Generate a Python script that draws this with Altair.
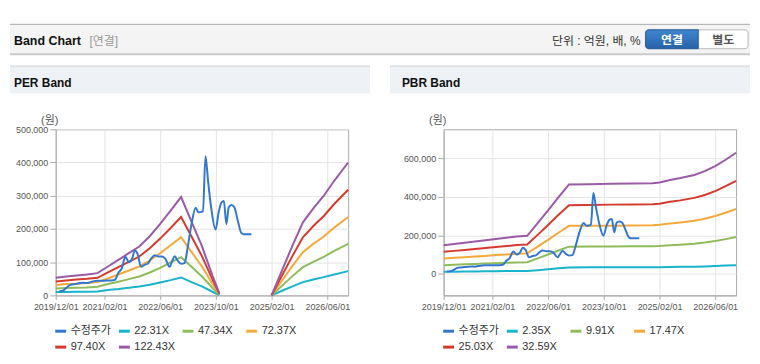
import altair as alt
import pandas as pd

FONT = "Liberation Sans, Noto Sans CJK KR"

# ---------------- data ----------------
tick_dates = ["2019/12/01", "2021/02/01", "2022/06/01", "2023/10/01", "2025/02/01", "2026/06/01"]

stock_name = "수정주가"
stock_dates = [
    "2020/01/01", "2020/02/01", "2020/03/01", "2020/04/01", "2020/05/01", "2020/06/01",
    "2020/07/01", "2020/08/01", "2020/09/01", "2020/10/01", "2020/11/01", "2020/12/01",
    "2021/01/01", "2021/02/01", "2021/03/01", "2021/04/01", "2021/05/01", "2021/06/01",
    "2021/07/01", "2021/08/01", "2021/09/01", "2021/10/01", "2021/10/22", "2021/11/16",
    "2021/12/16", "2022/01/16", "2022/02/16", "2022/03/16", "2022/04/13", "2022/05/16",
    "2022/06/16", "2022/07/16", "2022/08/22", "2022/09/16", "2022/10/07", "2022/11/01",
    "2022/12/01", "2023/01/01", "2023/01/25", "2023/03/01", "2023/04/07", "2023/05/01",
    "2023/06/10", "2023/07/01", "2023/07/25", "2023/08/22", "2023/09/28", "2023/10/25",
    "2023/11/19", "2023/12/10", "2024/01/01", "2024/01/22", "2024/02/16", "2024/03/10",
    "2024/04/10", "2024/05/10", "2024/06/01", "2024/08/07",
]
stock_values = [
    12000, 14000, 22000, 31000, 33000, 35000,
    37000, 38000, 37000, 40000, 43000, 44000,
    44000, 44000, 45000, 45000, 47000, 68000,
    82000, 116000, 100000, 112000, 135000, 125000,
    86000, 92000, 96000, 112000, 121000, 117000,
    117000, 110000, 86000, 105000, 118000, 105000,
    95000, 97000, 138000, 215000, 264000, 250000,
    253000, 419000, 340000, 260000, 198000, 250000,
    280000, 284000, 215000, 265000, 272000, 265000,
    225000, 188000, 184000, 184000,
]

# PER band (break between 2023/11 and 2025/02)
per_dates = [
    "2019/12/01", "2020/03/01", "2020/06/01", "2020/09/01", "2020/12/01", "2021/03/01",
    "2021/06/01", "2021/09/01", "2021/12/01", "2022/03/01", "2022/06/01", "2022/09/01",
    "2022/12/01", "2023/03/01", "2023/06/01", "2023/09/01", "2023/11/01",
    "2025/02/01", "2025/05/01", "2025/08/01", "2025/11/01", "2026/02/01", "2026/05/01",
    "2026/08/01", "2026/12/01",
]
per_gap_after = "2023/11/01"
per_names = ["22.31X", "47.34X", "72.37X", "97.40X", "122.43X"]
per_22 = [10000, 10000, 11000, 11000, 12000, 16000, 19000, 23000, 27000, 32000, 39000, 46000,
          54000, 40000, 27000, 11000, 1000,
          0, 14000, 27000, 40000, 48000, 55000, 63000, 73000]
per_47 = [21000, 22000, 23000, 24000, 26000, 34000, 41000, 49000, 57000, 69000, 83000, 99000,
          115000, 86000, 57000, 23000, 2000,
          0, 29000, 58000, 85000, 101000, 116000, 134000, 155000]
per_72 = [31000, 34000, 35000, 37000, 40000, 51000, 63000, 75000, 87000, 105000, 127000, 151000,
          175000, 131000, 87000, 35000, 4000,
          0, 44000, 89000, 130000, 155000, 177000, 204000, 236000]
per_97 = [42000, 45000, 48000, 50000, 53000, 69000, 85000, 101000, 117000, 142000, 171000, 203000,
          236000, 177000, 118000, 48000, 5000,
          0, 60000, 119000, 175000, 209000, 239000, 275000, 318000]
per_122 = [53000, 57000, 60000, 63000, 67000, 87000, 107000, 127000, 147000, 178000, 215000, 255000,
           296000, 222000, 148000, 60000, 6000,
           0, 75000, 150000, 220000, 262000, 300000, 345000, 400000]

# PBR band
pbr_dates = [
    "2019/12/01", "2020/03/01", "2020/06/01", "2020/09/01", "2020/12/01", "2021/03/01",
    "2021/06/01", "2021/09/01", "2021/12/01", "2022/03/01", "2022/06/01", "2022/09/01",
    "2022/12/01", "2023/06/01", "2023/12/01", "2024/06/01", "2024/12/01", "2025/02/01",
    "2025/05/01", "2025/08/01", "2025/12/01", "2026/03/01", "2026/06/01", "2026/09/01",
    "2026/12/01",
]
pbr_names = ["2.35X", "9.91X", "17.47X", "25.03X", "32.59X"]
pbr_2 = [11000, 11000, 12000, 12000, 13000, 13000, 14000, 14000, 14000, 19000, 24000, 29000,
         33000, 34000, 34000, 34000, 34000, 34000, 35000, 36000, 37000, 38000, 40000, 43000, 45000]
pbr_9 = [45000, 47000, 49000, 51000, 53000, 55000, 57000, 59000, 60000, 80000, 100000, 121000,
         141000, 142000, 142000, 143000, 143000, 144000, 148000, 151000, 156000, 162000, 170000,
         180000, 191000]
pbr_17 = [79000, 83000, 86000, 90000, 93000, 97000, 100000, 104000, 106000, 141000, 176000, 213000,
          249000, 249000, 250000, 251000, 252000, 254000, 261000, 266000, 275000, 286000, 300000,
          317000, 337000]
pbr_25 = [114000, 119000, 124000, 129000, 134000, 139000, 144000, 149000, 152000, 202000, 253000,
          306000, 356000, 357000, 359000, 360000, 361000, 364000, 374000, 381000, 394000, 409000,
          429000, 455000, 482000]
pbr_32 = [148000, 155000, 161000, 168000, 174000, 181000, 187000, 194000, 197000, 263000, 329000,
          398000, 464000, 465000, 467000, 469000, 470000, 474000, 487000, 497000, 513000, 533000,
          559000, 592000, 628000]

stock_color = "#3377d0"
band_colors = ["#19b3cb", "#8fbc5a", "#f5a93a", "#d53a2e", "#9a5aa6"]

per_y_ticks = [0, 100000, 200000, 300000, 400000, 500000]
per_y_domain = [0, 500000]
pbr_y_ticks = [0, 200000, 400000, 600000]
pbr_y_domain = [-112000, 750000]


# ---------------- helpers ----------------
def idx(s):
    y, m, d = (int(p) for p in s.split("/"))
    return (y - 2019) * 12 + (m - 12) + (d - 1) / 30.0


def band_frame(dates, names, series, gap_after=None):
    g = idx(gap_after) if gap_after else None
    rows = []
    for name, vals in zip(names, series):
        for dt, v in zip(dates, vals):
            i = idx(dt)
            rows.append({"m": i, "v": v, "s": name, "seg": 1 if (g is not None and i > g) else 0})
    return pd.DataFrame(rows)


stock_df = pd.DataFrame({"m": [idx(d) for d in stock_dates], "v": stock_values, "s": stock_name})
per_df = band_frame(per_dates, per_names, [per_22, per_47, per_72, per_97, per_122], per_gap_after)
pbr_df = band_frame(pbr_dates, pbr_names, [pbr_2, pbr_9, pbr_17, pbr_25, pbr_32])

tick_idx = [int(round(idx(d))) for d in tick_dates]
label_expr = "[" + ",".join("'%s'" % d for d in tick_dates) + "][indexof([" + ",".join(
    str(t) for t in tick_idx) + "], datum.value)]"

one = pd.DataFrame({"k": [0]})

W, H = 294, 167


def rect(o, x1, y1, x2, y2, **kw):
    return alt.Chart(one).mark_rect(**kw).encode(
        x=alt.value(x1 - o[0]), x2=alt.value(x2 - o[0]),
        y=alt.value(y1 - o[1]), y2=alt.value(y2 - o[1]))


def hline(o, x1, x2, y, color, w=1):
    return alt.Chart(one).mark_rule(color=color, strokeWidth=w).encode(
        x=alt.value(x1 - o[0]), x2=alt.value(x2 - o[0]), y=alt.value(y - o[1]))


def label(o, x, y, t, size=12, weight="normal", color="#333333", align="left"):
    return alt.Chart(pd.DataFrame({"t": [t]})).mark_text(
        align=align, baseline="alphabetic", fontSize=size, fontWeight=weight,
        color=color, font=FONT).encode(
        x=alt.value(x - o[0]), y=alt.value(y - o[1]), text="t:N")


def panel(o, bands_df, names, ydom, yticks, decos):
    x = alt.X("m:Q", scale=alt.Scale(domain=[0, 84], nice=False, zero=False),
              axis=alt.Axis(values=tick_idx, labelExpr=label_expr, title=None,
                            grid=True, gridColor="#e4e4e4", tickSize=4, tickColor="#aaaaaa",
                            domainColor="#aaaaaa", labelFontSize=9, labelColor="#555555",
                            labelPadding=3, labelFont=FONT, labelOverlap=False, labelFlush=False))
    y = alt.Y("v:Q", scale=alt.Scale(domain=ydom, nice=False, zero=False),
              axis=alt.Axis(values=yticks, format=",d", title="(원)", titleAngle=0,
                            titleX=-6.5, titleY=-6, titleAlign="center",
                            titleBaseline="alphabetic", titleFontSize=11,
                            titleFontWeight="normal", titleColor="#555555", titleFont=FONT,
                            grid=True, gridColor="#e4e4e4", tickSize=6, tickColor="#aaaaaa",
                            domainColor="#aaaaaa", labelFontSize=9, labelColor="#555555",
                            labelPadding=2, labelFont=FONT))
    color = alt.Color("s:N",
                      scale=alt.Scale(domain=[stock_name] + names, range=[stock_color] + band_colors),
                      legend=alt.Legend(orient="none", legendX=-2, legendY=196,
                                        direction="horizontal", columns=4, title=None,
                                        symbolType="stroke", symbolStrokeWidth=3, symbolSize=121,
                                        labelFontSize=11, labelFont=FONT, labelColor="#333333",
                                        columnPadding=1, rowPadding=3, gridAlign="all",
                                        labelOffset=3, padding=0))
    bands = alt.Chart(bands_df).mark_line(strokeWidth=2).encode(
        x=x, y=y, color=color, detail="seg:N")
    stock = alt.Chart(stock_df).mark_line(strokeWidth=2, interpolate="monotone").encode(
        x=x, y=y, color=color)
    return alt.layer(*decos, bands, stock).properties(width=W, height=H)


L = (54, 128)
R = (444, 128)

left_decos = [
    rect(L, 8, 8, 9, 9, fill="#ffffff"),
    rect(L, 8, 22, 752, 53, fill="#f4f4f4"),
    hline(L, 8, 752, 22.5, "#a9a9a9", 1),
    hline(L, 8, 752, 52.5, "#cacaca", 2),
    label(L, 12, 43, "Band Chart", 12.5, "bold", "#111111"),
    label(L, 88, 43, "[연결]", 12, "normal", "#999999"),
    label(L, 642, 43, "단위 : 억원, 배, %", 12, "normal", "#333333", "right"),
    rect(L, 647, 28, 750, 47, fill="#ffffff", stroke="#b8b8b8", strokeWidth=1, cornerRadius=3),
    rect(L, 647, 28, 700, 47,
         fill=alt.LinearGradient(gradient="linear", x1=0, x2=0, y1=0, y2=1,
                                 stops=[alt.GradientStop(offset=0, color="#3f86d0"),
                                        alt.GradientStop(offset=1, color="#2862a8")]),
         stroke="#2a5e9e", strokeWidth=1, cornerRadiusTopLeft=3, cornerRadiusBottomLeft=3),
    label(L, 673.5, 42, "연결", 12, "bold", "#ffffff", "center"),
    label(L, 725, 42, "별도", 12, "bold", "#555555", "center"),
    rect(L, 8, 64, 370, 92, fill="#eef1f6"),
    hline(L, 8, 370, 64.5, "#d6d6d6", 1),
    label(L, 12, 85, "PER Band", 12, "bold", "#111111"),
]

right_decos = [
    rect(R, 390, 64, 752, 92, fill="#eef1f6"),
    hline(R, 390, 752, 64.5, "#d6d6d6", 1),
    label(R, 402, 85, "PBR Band", 12, "bold", "#111111"),
]

per_chart = panel(L, per_df, per_names, per_y_domain, per_y_ticks, left_decos)
pbr_chart = panel(R, pbr_df, pbr_names, pbr_y_domain, pbr_y_ticks, right_decos)

chart = alt.hconcat(per_chart, pbr_chart, spacing=96, bounds="flush").resolve_scale(
    color="independent", x="independent", y="independent"
).resolve_legend(color="independent").properties(
    padding=0, background="#ffffff"
).configure_view(stroke="#aaaaaa", strokeWidth=1)

chart.save("out.html", embed_options={"renderer": "svg", "actions": False})
